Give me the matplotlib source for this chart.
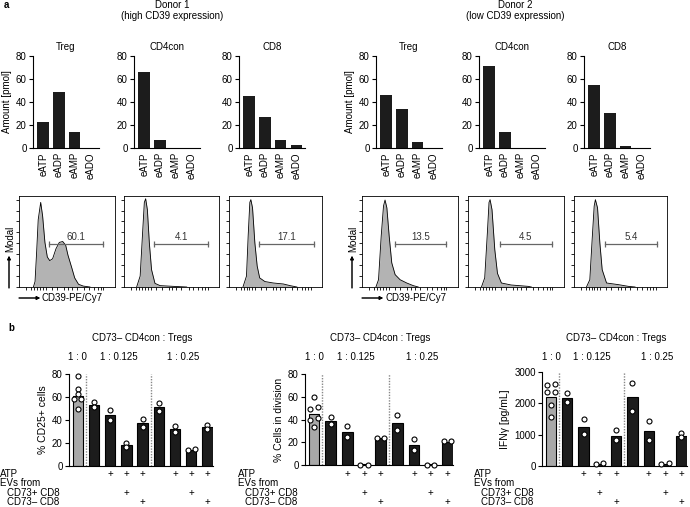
import numpy as np
import matplotlib.pyplot as plt
from matplotlib import transforms

plt.rcParams['font.family'] = ['Liberation Sans', 'DejaVu Sans']
plt.rcParams['font.size'] = 7
plt.rcParams['axes.linewidth'] = 0.8

# ---- data ----
metabolites = ['eATP', 'eADP', 'eAMP', 'eADO']
cell_types = ['Treg', 'CD4con', 'CD8']
donor1_amount = [[23, 49, 14, 0], [66, 7, 0, 0], [45, 27, 7, 3]]
donor2_amount = [[46, 34, 5, 0], [71, 14, 0, 0], [55, 30, 2, 0]]

# histograms: (x, y), in % of the plot box
d1_treg_x = [15, 16.7, 18.4, 20, 22.6, 24.6, 27, 29.5, 32, 35, 38.5, 42, 45.5, 48.6, 51, 55, 58, 62, 67, 74]
d1_treg_y = [0, 6, 39, 74, 93, 78, 49, 33, 29, 31, 42, 49, 50, 46, 35, 21, 10, 3, 1, 0]
d1_cd4_x = [13.3, 17, 19.6, 21.4, 22.8, 24.6, 26.7, 29, 32.6, 38, 52, 66]
d1_cd4_y = [0, 12, 60, 93, 97, 85, 48, 19, 4, 1.5, 0.7, 0]
d1_cd8_x = [15, 18.8, 20.6, 22.4, 23.5, 25.3, 27.8, 30.3, 33, 38.6, 47.7, 58.5, 65.7, 73]
d1_cd8_y = [0, 12, 56, 93, 96, 87, 48.5, 23, 10, 6, 4.4, 3.3, 1.5, 0]
d2_treg_x = [14.5, 17.2, 20, 22.4, 24, 25.9, 28.3, 31, 34.5, 39.7, 46.6, 53.4, 58.6]
d2_treg_y = [0, 8, 56, 89, 95.6, 87, 56, 26.5, 13.6, 8, 4.4, 1.5, 0]
d2_cd4_x = [14, 17.4, 20.2, 21.9, 23, 25, 27.9, 30.7, 34.8, 45, 62.7, 66]
d2_cd4_y = [0, 10, 60, 93, 96, 85, 41, 15, 4.4, 2.2, 0.7, 0]
d2_cd8_x = [13.4, 17, 19.5, 21.7, 23, 25.3, 27.8, 30.3, 35, 47.7, 58.5, 65.7]
d2_cd8_y = [0, 8, 52, 89, 96, 87, 48.5, 19, 4.4, 2.6, 0.7, 0]
gate_d1 = [[31.6, 88, '60.1'], [31.6, 88.8, '4.1'], [32.5, 91, '17.1']]
gate_d2 = [[34.5, 87.2, '13.5'], [33.4, 87, '4.5'], [33.2, 89, '5.4']]

ratio_labels = ['1 : 0', '1 : 0.125', '1 : 0.25']
cd25_means = [61, 53, 44, 18, 37, 51, 32, 14, 34]
cd25_points = [[78, 67, 63, 58, 58, 50], [56, 51], [49, 40], [20, 16.5], [41, 34],
               [55, 48], [35, 30], [14, 15], [36, 32]]
div_means = [45, 39, 29, 0.5, 23.5, 37, 18, 0.5, 20.5]
div_points = [[60, 51, 49, 41, 40, 33], [42, 36], [34, 25], [0, 0], [24, 24],
              [44, 31], [23, 13], [0, 0], [21, 21]]
ifng_means = [2200, 2175, 1250, 60, 965, 2195, 1120, 60, 945]
ifng_points = [[2580, 2630, 2350, 2350, 1950, 1560], [2315, 2055], [1510, 1020], [70, 90],
               [1140, 825], [2660, 1760], [1425, 815], [50, 90], [1055, 925]]
atp_row = ['', '', '+', '+', '+', '', '+', '+', '+']
cd73pos_row = ['', '', '', '+', '', '', '', '+', '']
cd73neg_row = ['', '', '', '', '+', '', '', '', '+']

W, H = 690, 507
fig = plt.figure(figsize=(W / 100, H / 100), dpi=100)


def px_axes(l, r, t, b):
    return fig.add_axes([l / W, 1 - b / H, (r - l) / W, (b - t) / H])


def F(x, y):
    return x / W, 1 - y / H


def ftext(x, y, s, **kw):
    fig.text(x / W, 1 - y / H, s, **kw)


# ---- a: metabolite bars ----
ftext(4, 5, 'a', fontweight='bold', va='center')
for cx, name, sub in [(172, 'Donor 1', '(high CD39 expression)'),
                      (515, 'Donor 2', '(low CD39 expression)')]:
    ftext(cx, 5, name, ha='center', va='center')
    ftext(cx, 16, sub, ha='center', va='center')

bar_lefts = [[33, 134, 239], [376, 479, 584]]
for amounts, lefts in zip([donor1_amount, donor2_amount], bar_lefts):
    for k, (vals, l) in enumerate(zip(amounts, lefts)):
        ax = px_axes(l, l + 66, 56, 148)
        ax.bar(np.arange(4), vals, width=0.73, color='#1c1c1c')
        ax.set_xlim(-0.65, 3.55)
        ax.set_ylim(0, 80)
        ax.set_yticks([0, 20, 40, 60, 80])
        ax.set_xticks(np.arange(4))
        ax.set_xticklabels(metabolites, rotation=90)
        ax.tick_params(axis='x', length=0, pad=3)
        ax.tick_params(axis='y', length=3, width=0.8, pad=1.5)
        for s in ['top', 'right']:
            ax.spines[s].set_visible(False)
        ax.set_title(cell_types[k], fontsize=7, pad=4)
        if k == 0:
            ax.set_ylabel('Amount [pmol]', labelpad=3)

# ---- histograms ----
hists = [(d1_treg_x, d1_treg_y), (d1_cd4_x, d1_cd4_y), (d1_cd8_x, d1_cd8_y),
         (d2_treg_x, d2_treg_y), (d2_cd4_x, d2_cd4_y), (d2_cd8_x, d2_cd8_y)]
gates = gate_d1 + gate_d2
boxes = [(19, 115), (124, 219), (229, 322), (362, 458), (468, 564), (574, 667)]
for (hx, hy), (g0, g1, glab), (l, r) in zip(hists, gates, boxes):
    ax = px_axes(l, r, 196, 287)
    ax.fill_between(hx, hy, color='#b3b3b3', lw=0)
    ax.plot(hx, hy, color='black', lw=0.6)
    ax.plot([g0, g1], [47, 47], color='#666666', lw=0.9)
    ax.plot([g0, g1], [47, 47], '|', color='#666666', ms=5, mew=0.9)
    ax.text((g0 + g1) / 2, 49, glab, ha='center', va='bottom', color='#333333')
    ax.set_xlim(0, 100)
    ax.set_ylim(0, 100)
    ax.set_yticks(np.arange(0, 101, 12))
    ax.set_xticks([7, 13, 16, 19, 22, 25, 28, 34, 40, 47, 51, 55, 60, 68, 73, 78, 82, 85, 88])
    ax.tick_params(length=2.5, width=0.6, labelleft=False, labelbottom=False)
    for s in ax.spines.values():
        s.set_linewidth(0.6)

for x0 in [9, 352]:
    fig.add_artist(plt.annotate('', xy=F(x0, 256), xytext=F(x0, 288), xycoords='figure fraction',
                                arrowprops=dict(arrowstyle='-|>', lw=0.7, color='black',
                                                mutation_scale=5, shrinkA=0, shrinkB=0)))
    ftext(x0 + 1, 252, 'Modal', rotation=90, ha='center', va='bottom')
    fig.add_artist(plt.annotate('', xy=F(x0 + 31, 298), xytext=F(x0 + 10, 298), xycoords='figure fraction',
                                arrowprops=dict(arrowstyle='-|>', lw=0.7, color='black',
                                                mutation_scale=5, shrinkA=0, shrinkB=0)))
    ftext(x0 + 33, 298, 'CD39-PE/Cy7', ha='left', va='center')


# ---- b: co-culture bars ----
def swarm(vals, thr, step=0.44):
    vals = np.asarray(vals, float)
    order = np.argsort(vals)
    offs = np.zeros(len(vals))
    groups = [[order[0]]]
    for prev, cur in zip(order[:-1], order[1:]):
        if abs(vals[cur] - vals[prev]) <= thr:
            groups[-1].append(cur)
        else:
            groups.append([cur])
    for g in groups:
        k = len(g)
        for i, idx in enumerate(g):
            offs[idx] = (i - (k - 1) / 2) * step
    return offs


ftext(8, 328, 'b', fontweight='bold', va='center')
panels = [(69, 213, 374, 466, cd25_means, cd25_points, 80, [0, 20, 40, 60, 80], '% CD25+ cells', 0, 7),
          (305, 453, 374, 465, div_means, div_points, 80, [0, 20, 40, 60, 80], '% Cells in division', 238, 245),
          (542, 687, 372, 466, ifng_means, ifng_points, 3000, [0, 1000, 2000, 3000], 'IFNγ [pg/mL]', 474, 481)]
for l, r, t, b, means, points, ymax, yt, ylab, tx, tx2 in panels:
    ax = px_axes(l, r, t, b)
    x = np.arange(len(means))
    ax.bar(x, means, width=0.64, color=['#a8a8a8'] + ['#1c1c1c'] * 8,
           edgecolor='black', linewidth=0.8)
    for i, pts in enumerate(points):
        ax.plot(i + swarm(pts, 0.035 * ymax), pts, 'o', mfc='white', mec='black',
                ms=3.6, mew=0.8, clip_on=False, zorder=3)
    ax.vlines([0.5, 4.5], 0, ymax, colors='#888888', linestyles=(0, (1, 1)), lw=1)
    ax.set_xlim(-0.55, 8.35)
    ax.set_ylim(0, ymax)
    ax.set_yticks(yt)
    ax.set_xticks([])
    ax.tick_params(axis='y', length=3, width=0.8, pad=1.5)
    for s in ['top', 'right']:
        ax.spines[s].set_visible(False)
    ax.set_ylabel(ylab, labelpad=3, fontsize=7.5)
    tr = transforms.blended_transform_factory(ax.transData, fig.transFigure)
    ax.text(4, 1 - 338 / H, 'CD73– CD4con : Tregs', transform=tr, ha='center', va='center')
    for xc, lab in zip([0, 2.5, 6.5], ratio_labels):
        ax.text(xc, 1 - 357 / H, lab, transform=tr, ha='center', va='center')
    for row, yy in zip([atp_row, cd73pos_row, cd73neg_row], [474, 493, 502]):
        for i, s in enumerate(row):
            if s:
                ax.text(i, 1 - yy / H, s, transform=tr, ha='center', va='center')
    ftext(tx, 474, 'ATP', va='center')
    ftext(tx, 483, 'EVs from', va='center')
    ftext(tx2, 493, 'CD73+ CD8', va='center')
    ftext(tx2, 502, 'CD73– CD8', va='center')

fig.savefig('out.png', dpi=100)
